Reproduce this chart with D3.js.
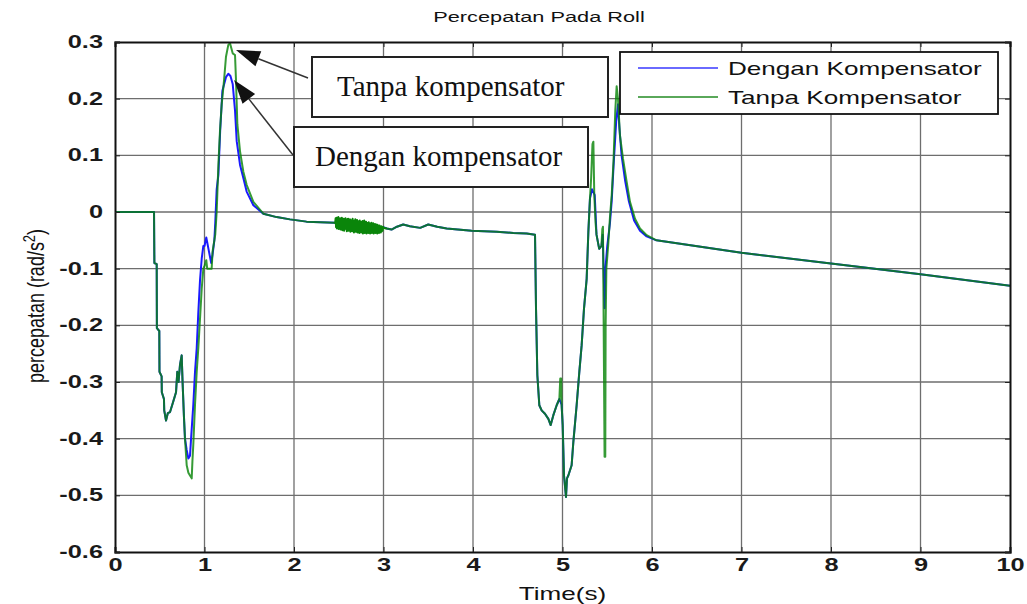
<!DOCTYPE html>
<html>
<head>
<meta charset="utf-8">
<script src="https://cdn.jsdelivr.net/npm/d3@7"></script>
<style>
  html, body { margin: 0; padding: 0; background: #fff; }
  svg { display: block; }
</style>
</head>
<body>
<svg id="chart" width="1027" height="604"></svg>
<script>
// Roll acceleration response, with and without compensator
const xTicks = [0, 1, 2, 3, 4, 5, 6, 7, 8, 9, 10];
const yTicks = [0.3, 0.2, 0.1, 0, -0.1, -0.2, -0.3, -0.4, -0.5, -0.6];
const yTickLabels = ["0.3", "0.2", "0.1", "0", "-0.1", "-0.2", "-0.3", "-0.4", "-0.5", "-0.6"];
const seriesNames = ["Dengan Kompensator", "Tanpa Kompensator"];

// [time (s), acceleration (rad/s^2)]
const denganPoints = [
  [0, 0], [0.436, 0], [0.44, -0.09], [0.466, -0.092], [0.468, -0.205], [0.495, -0.21],
  [0.497, -0.282], [0.521, -0.29], [0.523, -0.318], [0.547, -0.33], [0.55, -0.35],
  [0.57, -0.368], [0.59, -0.355], [0.615, -0.353], [0.64, -0.34], [0.682, -0.318],
  [0.696, -0.282], [0.71, -0.3], [0.726, -0.27], [0.745, -0.253], [0.755, -0.3],
  [0.77, -0.36], [0.782, -0.4], [0.801, -0.42], [0.82, -0.435], [0.838, -0.43],
  [0.85, -0.4], [0.875, -0.34], [0.894, -0.282], [0.913, -0.24], [0.93, -0.18],
  [0.95, -0.12], [0.969, -0.082], [0.987, -0.06], [1.0, -0.06], [1.02, -0.045],
  [1.05, -0.07], [1.075, -0.09], [1.09, -0.075], [1.11, -0.05], [1.12, -0.02],
  [1.136, 0.04], [1.155, 0.065], [1.175, 0.143], [1.2, 0.214], [1.24, 0.238],
  [1.266, 0.244], [1.29, 0.24], [1.315, 0.226], [1.341, 0.179], [1.36, 0.125],
  [1.397, 0.083], [1.434, 0.06], [1.471, 0.036], [1.546, 0.012], [1.657, -0.003],
  [1.806, -0.009], [1.955, -0.013], [2.14, -0.017], [2.458, -0.019], [2.6, -0.021],
  [2.8, -0.023], [3.0, -0.027], [3.035, -0.029], [3.09, -0.031], [3.15, -0.026],
  [3.22, -0.022], [3.295, -0.025], [3.41, -0.028], [3.5, -0.022], [3.6, -0.026],
  [3.706, -0.029], [3.985, -0.033], [4.265, -0.035], [4.45, -0.037], [4.6, -0.038],
  [4.693, -0.04], [4.704, -0.17], [4.719, -0.288], [4.741, -0.341], [4.767, -0.35],
  [4.804, -0.356], [4.842, -0.365], [4.868, -0.376], [4.897, -0.359], [4.935, -0.341],
  [4.965, -0.33], [4.99, -0.34], [5.002, -0.376], [5.017, -0.465], [5.039, -0.503],
  [5.05, -0.47], [5.065, -0.465], [5.102, -0.447], [5.121, -0.406], [5.158, -0.341],
  [5.188, -0.282], [5.214, -0.235], [5.24, -0.171], [5.27, -0.118], [5.289, -0.035],
  [5.307, 0.024], [5.33, 0.04], [5.36, 0.03], [5.38, -0.04], [5.41, -0.065],
  [5.435, -0.06], [5.45, -0.04], [5.47, -0.17], [5.48, -0.1], [5.5, -0.06],
  [5.53, -0.02], [5.55, 0.02], [5.57, 0.08], [5.6, 0.16], [5.62, 0.19], [5.635, 0.15],
  [5.66, 0.1], [5.7, 0.055], [5.74, 0.02], [5.8, -0.015], [5.866, -0.033],
  [5.94, -0.043], [6.05, -0.05], [7, -0.072], [8, -0.091], [9, -0.11], [10, -0.13]
];

const tanpaPoints = [
  [0, 0], [0.436, 0], [0.44, -0.09], [0.466, -0.092], [0.468, -0.205], [0.495, -0.21],
  [0.497, -0.282], [0.521, -0.29], [0.523, -0.318], [0.547, -0.33], [0.55, -0.35],
  [0.57, -0.368], [0.59, -0.355], [0.615, -0.353], [0.64, -0.34], [0.682, -0.318],
  [0.696, -0.282], [0.71, -0.3], [0.726, -0.27], [0.745, -0.253], [0.755, -0.3],
  [0.77, -0.36], [0.782, -0.4], [0.801, -0.447], [0.82, -0.46], [0.838, -0.465],
  [0.857, -0.47], [0.865, -0.44], [0.875, -0.41], [0.894, -0.34], [0.913, -0.282],
  [0.931, -0.24], [0.95, -0.188], [0.969, -0.135], [0.987, -0.1], [1.0, -0.095],
  [1.02, -0.085], [1.03, -0.1], [1.043, -0.1], [1.08, -0.1], [1.09, -0.07],
  [1.12, -0.04], [1.136, 0], [1.155, 0.083], [1.173, 0.143], [1.192, 0.19],
  [1.218, 0.232], [1.24, 0.274], [1.266, 0.295], [1.285, 0.298], [1.315, 0.28],
  [1.341, 0.277], [1.352, 0.232], [1.367, 0.155], [1.397, 0.107], [1.434, 0.071],
  [1.471, 0.048], [1.546, 0.018], [1.657, -0.003], [1.806, -0.009], [1.955, -0.013],
  [2.14, -0.017], [2.45, -0.019]
];

// jitter band recorded between 2.46 s and 3.00 s (one sample every 0.005 s)
const tanpaJitterStart = 2.46;
const tanpaJitterStep = 0.005;
const tanpaJitter = [
  -0.019, -0.011, -0.027, -0.010, -0.029, -0.013, -0.025, -0.009, -0.030, -0.015,
  -0.026, -0.011, -0.031, -0.012, -0.028, -0.010, -0.032, -0.016, -0.027, -0.012,
  -0.033, -0.014, -0.029, -0.011, -0.030, -0.017, -0.034, -0.013, -0.028, -0.012,
  -0.033, -0.015, -0.031, -0.013, -0.035, -0.016, -0.029, -0.014, -0.034, -0.012,
  -0.032, -0.017, -0.036, -0.015, -0.030, -0.013, -0.035, -0.018, -0.033, -0.014,
  -0.036, -0.016, -0.031, -0.019, -0.037, -0.015, -0.034, -0.017, -0.036, -0.020,
  -0.032, -0.016, -0.038, -0.018, -0.035, -0.015, -0.037, -0.021, -0.033, -0.017,
  -0.038, -0.019, -0.035, -0.022, -0.037, -0.018, -0.034, -0.020, -0.038, -0.021,
  -0.036, -0.019, -0.037, -0.023, -0.035, -0.020, -0.038, -0.022, -0.036, -0.021,
  -0.037, -0.024, -0.035, -0.022, -0.038, -0.023, -0.036, -0.025, -0.037, -0.024,
  -0.035, -0.026, -0.036, -0.025, -0.034, -0.027, -0.033, -0.026, -0.028
];

const tanpaTail = [
  [3.035, -0.029], [3.09, -0.031], [3.15, -0.026], [3.22, -0.022], [3.295, -0.025],
  [3.41, -0.028], [3.5, -0.022], [3.6, -0.026], [3.706, -0.029], [3.985, -0.033],
  [4.265, -0.035], [4.45, -0.037], [4.6, -0.038], [4.693, -0.04], [4.704, -0.17],
  [4.719, -0.288], [4.741, -0.341], [4.767, -0.35], [4.804, -0.356], [4.842, -0.365],
  [4.868, -0.376], [4.897, -0.359], [4.935, -0.341], [4.965, -0.33], [4.975, -0.294],
  [4.985, -0.294], [4.99, -0.34], [5.002, -0.376], [5.017, -0.465], [5.039, -0.503],
  [5.05, -0.47], [5.065, -0.465], [5.102, -0.447], [5.121, -0.406], [5.158, -0.341],
  [5.188, -0.282], [5.214, -0.235], [5.24, -0.171], [5.27, -0.118], [5.289, -0.035],
  [5.307, 0.024], [5.32, 0.06], [5.335, 0.12], [5.345, 0.124], [5.355, 0.03],
  [5.37, -0.02], [5.38, -0.04], [5.41, -0.065], [5.435, -0.06], [5.445, -0.03],
  [5.452, -0.026], [5.46, -0.2], [5.47, -0.432], [5.478, -0.432], [5.482, -0.2],
  [5.49, -0.1], [5.51, -0.06], [5.53, -0.01], [5.55, 0.03], [5.57, 0.09],
  [5.59, 0.18], [5.605, 0.222], [5.62, 0.2], [5.642, 0.135], [5.676, 0.094],
  [5.717, 0.053], [5.754, 0.018], [5.81, -0.012], [5.866, -0.029], [5.94, -0.041],
  [6.05, -0.05], [7, -0.072], [8, -0.091], [9, -0.11], [10, -0.13]
];

const jitterPoints = tanpaJitter.map((v, i) => [tanpaJitterStart + i * tanpaJitterStep, v]);
// the green trace is drawn in three pieces so the dense jitter can be rendered opaque
const tanpaSegments = [
  { pts: tanpaPoints.concat([jitterPoints[0]]), opacity: 0.82 },
  { pts: [tanpaPoints[tanpaPoints.length - 1]].concat(jitterPoints, [tanpaTail[0]]), opacity: 1 },
  { pts: [jitterPoints[jitterPoints.length - 1]].concat(tanpaTail), opacity: 0.82 }
];

const W = 1027, H = 604;
const margin = { left: 115, right: 17, top: 42, bottom: 52 };
const plotW = W - margin.left - margin.right;
const plotH = H - margin.top - margin.bottom;
const SX = 1.45; // horizontal stretch of the sans-serif lettering

const svg = d3.select("#chart");
const x = d3.scaleLinear().domain([0, 10]).range([0, plotW]);
const y = d3.scaleLinear().domain([-0.6, 0.3]).range([plotH, 0]);

const g = svg.append("g").attr("transform", `translate(${margin.left},${margin.top})`);

// grid
const grid = g.append("g").attr("stroke", "#6e6e6e").attr("stroke-width", 1.3);
grid.selectAll("line.vx").data(xTicks.slice(1, -1)).join("line")
  .attr("x1", d => x(d)).attr("x2", d => x(d)).attr("y1", 0).attr("y2", plotH);
grid.selectAll("line.hy").data(yTicks.slice(1, -1)).join("line")
  .attr("y1", d => y(d)).attr("y2", d => y(d)).attr("x1", 0).attr("x2", plotW);

// data lines
g.append("clipPath").attr("id", "plotClip").append("rect")
  .attr("width", plotW).attr("height", plotH);
const line = d3.line().x(d => x(d[0])).y(d => y(d[1]));
const lines = g.append("g").attr("clip-path", "url(#plotClip)");
lines.append("path").datum(denganPoints)
  .attr("fill", "none").attr("stroke", "#1a1aff").attr("stroke-width", 2)
  .attr("stroke-linejoin", "round").attr("d", line);
lines.selectAll("path.tanpa").data(tanpaSegments).join("path")
  .attr("class", "tanpa")
  .attr("fill", "none").attr("stroke", "#0a850a").attr("stroke-width", 2)
  .attr("stroke-opacity", d => d.opacity)
  .attr("stroke-linejoin", "round").attr("d", d => line(d.pts));

// axes with inward ticks on all four sides
const fmt = d => yTickLabels[yTicks.indexOf(d)];
const axFont = "Liberation Sans, Arial, sans-serif";

const xAxis = g.append("g").attr("transform", `translate(0,${plotH})`)
  .call(d3.axisBottom(x).tickValues(xTicks).tickSize(-5).tickPadding(7).tickFormat(d3.format("d")));
const xAxisTop = g.append("g")
  .call(d3.axisTop(x).tickValues(xTicks).tickSize(-5).tickFormat(""));
const yAxis = g.append("g")
  .call(d3.axisLeft(y).tickValues(yTicks).tickSize(-5).tickPadding(12).tickFormat(fmt));
const yAxisRight = g.append("g").attr("transform", `translate(${plotW},0)`)
  .call(d3.axisRight(y).tickValues(yTicks).tickSize(-5).tickFormat(""));

[xAxis, xAxisTop, yAxis, yAxisRight].forEach(a => {
  a.select(".domain").attr("stroke", "#111").attr("stroke-width", 2);
  a.selectAll(".tick line").attr("stroke", "#222").attr("stroke-width", 1);
  a.selectAll(".tick text").each(function () {
    const t = d3.select(this);
    const x0 = +t.attr("x") || 0;
    t.attr("x", x0 / SX).attr("transform", `scale(${SX},1)`);
  })
    .attr("font-family", axFont).attr("font-size", 17.5)
    .attr("font-weight", "bold").attr("fill", "#1a1a1a");
});

// stretched sans-serif label helper
function label(px, py, txt, size, anchor) {
  return svg.append("g").attr("transform", `translate(${px},${py}) scale(${SX},1)`)
    .append("text").attr("text-anchor", anchor || "middle")
    .attr("font-family", axFont).attr("font-size", size).attr("fill", "#111").text(txt);
}

// title and axis labels
label(539, 22, "Percepatan Pada Roll", 15);
label(margin.left + plotW / 2, 600, "Time(s)", 18);
const yl = svg.append("g").attr("transform", "translate(44,306) scale(1.3,1) rotate(-90)")
  .append("text").attr("text-anchor", "middle").attr("font-family", axFont)
  .attr("font-size", 18).attr("fill", "#111");
yl.append("tspan").text("percepatan (rad/s");
yl.append("tspan").attr("dy", -7).attr("font-size", 13).text("2");
yl.append("tspan").attr("dy", 7).text(")");

// annotation call-outs
const serif = "Liberation Serif, Times New Roman, serif";
const notes = [
  { text: "Tanpa kompensator", box: [312, 57, 296, 60], tx: 337, base: 96, from: [308, 78], to: [236, 50] },
  { text: "Dengan kompensator", box: [294, 127, 294, 60], tx: 315, base: 166, from: [293, 155], to: [234, 80] }
];
notes.forEach(n => {
  const [bx, by, bw, bh] = n.box;
  // arrow shaft and head
  const dx = n.to[0] - n.from[0], dy = n.to[1] - n.from[1];
  const len = Math.hypot(dx, dy), ux = dx / len, uy = dy / len;
  const headL = 24, headW = 8;
  const bxp = n.to[0] - ux * headL, byp = n.to[1] - uy * headL;
  svg.append("line").attr("x1", n.from[0]).attr("y1", n.from[1]).attr("x2", bxp).attr("y2", byp)
    .attr("stroke", "#333").attr("stroke-width", 1.5);
  svg.append("path")
    .attr("d", `M${n.to[0]},${n.to[1]} L${bxp - uy * headW},${byp + ux * headW} L${bxp + uy * headW},${byp - ux * headW} Z`)
    .attr("fill", "#111");
  svg.append("rect").attr("x", bx).attr("y", by).attr("width", bw).attr("height", bh)
    .attr("fill", "#fff").attr("stroke", "#222").attr("stroke-width", 2);
  svg.append("text").attr("x", n.tx).attr("y", n.base)
    .attr("font-family", serif).attr("font-size", 29).attr("fill", "#111").text(n.text);
});

// legend
const lg = svg.append("g");
lg.append("rect").attr("x", 620).attr("y", 52).attr("width", 378).attr("height", 62)
  .attr("fill", "#fff").attr("stroke", "#111").attr("stroke-width", 1.8);
const legendColors = ["#6a6aff", "#5aa85a"];
seriesNames.forEach((name, i) => {
  const ly = 68 + i * 29;
  lg.append("line").attr("x1", 638).attr("x2", 718).attr("y1", ly).attr("y2", ly)
    .attr("stroke", legendColors[i]).attr("stroke-width", 2.2);
  lg.append("g").attr("transform", `translate(728,${ly + 6.5}) scale(${SX},1)`)
    .append("text").attr("font-family", axFont).attr("font-size", 18)
    .attr("fill", "#111").text(name);
});
</script>
</body>
</html>
